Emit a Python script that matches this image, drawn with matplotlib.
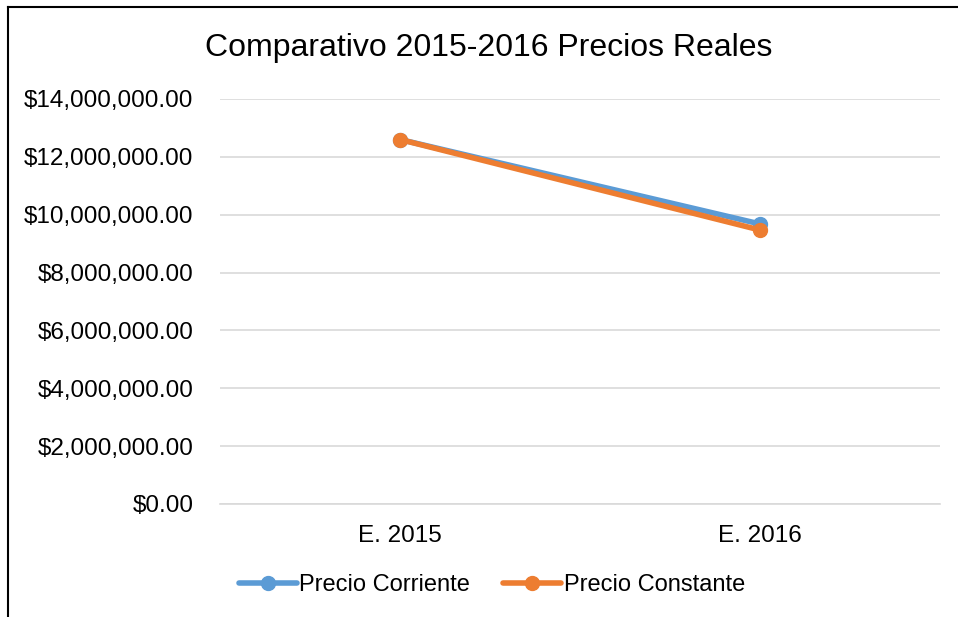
import matplotlib
matplotlib.use('Agg')
import matplotlib.pyplot as plt
from matplotlib.lines import Line2D
from matplotlib.ticker import FuncFormatter

categories = ['E. 2015', 'E. 2016']
precio_corriente = [12600000, 9680000]
precio_constante = [12600000, 9470000]
yticks = [0, 2000000, 4000000, 6000000, 8000000, 10000000, 12000000, 14000000]

plt.rcParams['font.family'] = ['Liberation Sans', 'DejaVu Sans']

fig = plt.figure(figsize=(9.58, 6.17), dpi=100)
W, H = 958, 617
ax = fig.add_axes([220 / W, 1 - 504 / H, 720 / W, 405 / H])

x = list(range(len(categories)))
ax.plot(x, precio_corriente, color='#5B9BD5', lw=4, marker='o', ms=10,
        label='Precio Corriente', solid_capstyle='round', zorder=3)
ax.plot(x, precio_constante, color='#ED7D31', lw=4, marker='o', ms=10,
        label='Precio Constante', solid_capstyle='round', zorder=4)

ax.set_xlim(-0.5, 1.5)
ax.set_ylim(0, 14000000)
ax.set_yticks(yticks)
ax.yaxis.set_major_formatter(FuncFormatter(lambda v, p: '${:,.2f}'.format(v)))
ax.set_xticks(x)
ax.set_xticklabels(categories)
ax.grid(axis='y', color='#D9D9D9', lw=1.2)
ax.set_axisbelow(True)
for s in ['top', 'right', 'left']:
    ax.spines[s].set_visible(False)
ax.spines['bottom'].set_color('#D9D9D9')
ax.spines['bottom'].set_linewidth(1.2)
ax.tick_params(axis='both', length=0, labelsize=17.5, colors='black')
ax.tick_params(axis='y', pad=19)
ax.tick_params(axis='x', pad=15)

fig.text(489 / W, 1 - 48 / H, 'Comparativo 2015-2016 Precios Reales',
         ha='center', va='center', fontsize=23)

ax.legend(loc='center', bbox_to_anchor=(492 / W, 1 - 585 / H),
          bbox_transform=fig.transFigure, ncol=2, frameon=False,
          fontsize=17, handlelength=2.45, handletextpad=0.1, columnspacing=1.4)

# frame border (top and left only visible)
fig.add_artist(Line2D([8 / W, 8 / W], [0, 1 - 7 / H], transform=fig.transFigure,
                      color='black', lw=1.5))
fig.add_artist(Line2D([8 / W, 1], [1 - 7 / H, 1 - 7 / H], transform=fig.transFigure,
                      color='black', lw=1.5))

fig.savefig('out.png', dpi=100)
